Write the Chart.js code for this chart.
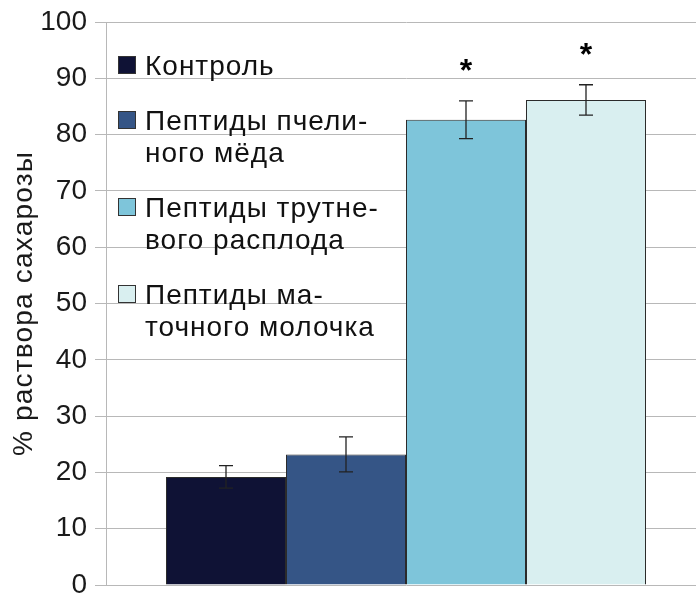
<!DOCTYPE html>
<html>
<head>
<meta charset="utf-8">
<script src="https://cdn.jsdelivr.net/npm/chart.js@4/dist/chart.umd.min.js"></script>
<style>
  html, body { margin: 0; padding: 0; background: #fff; overflow: hidden; }
  #wrap { width: 696px; height: 594px; overflow: hidden; position: relative; }
  canvas { display: block; }
</style>
</head>
<body>
<div id="wrap"><canvas id="c" width="720" height="620"></canvas></div>
<script>
// Groups (legend lines, hyphenated as printed)
const groupLabels = [
  ['Контроль'],
  ['Пептиды пчели-', 'ного мёда'],
  ['Пептиды трутне-', 'вого расплода'],
  ['Пептиды ма-', 'точного молочка']
];
// Mean response, % of sucrose solution
const means = [19.2, 23.2, 82.65, 86.15];
// Error (±)
const errors = [2.0, 3.1, 3.35, 2.7];
// Significance marks
const significant = [false, false, true, true];
const barColors = ['#0f1235', '#355586', '#7ec5da', '#d9eff0'];
const yTicks = [0, 10, 20, 30, 40, 50, 60, 70, 80, 90, 100];
const yTitle = '% раствора сахарозы';

const FONT = "'Liberation Sans', Arial, sans-serif";

const datasets = groupLabels.map((lab, i) => ({
  label: lab.join(' '),
  lines: lab,
  data: [means[i]],
  err: errors[i],
  star: significant[i],
  backgroundColor: barColors[i],
  borderColor: '#2b2b2b',
  borderWidth: 1,
  barPercentage: 1,
  categoryPercentage: 0.8
}));

// Error bars, significance stars, axis title and the in-plot legend
const overlay = {
  id: 'overlay',
  afterDatasetsDraw(chart) {
    const ctx = chart.ctx;
    const y = chart.scales.y;
    const area = chart.chartArea;
    ctx.save();
    chart.data.datasets.forEach((ds, i) => {
      const bar = chart.getDatasetMeta(i).data[0];
      const v = ds.data[0];
      const yTop = y.getPixelForValue(v + ds.err);
      const yBot = y.getPixelForValue(v - ds.err);
      const x = bar.x;
      ctx.strokeStyle = '#222';
      ctx.lineWidth = 1.3;
      ctx.beginPath();
      ctx.moveTo(x, yTop); ctx.lineTo(x, yBot);
      ctx.moveTo(x - 7, yTop); ctx.lineTo(x + 7, yTop);
      ctx.moveTo(x - 7, yBot); ctx.lineTo(x + 7, yBot);
      ctx.stroke();
      if (ds.star) {
        ctx.fillStyle = '#000';
        ctx.font = 'bold 32px ' + FONT;
        ctx.textAlign = 'center';
        ctx.textBaseline = 'middle';
        ctx.fillText('*', x, yTop - 29);
      }
    });

    // y-axis title
    ctx.save();
    ctx.translate(32, (y.top + y.bottom) / 2);
    ctx.rotate(-Math.PI / 2);
    ctx.font = '28px ' + FONT;
    ctx.letterSpacing = '1.2px';
    ctx.fillStyle = '#1a1a1a';
    ctx.textAlign = 'center';
    ctx.textBaseline = 'alphabetic';
    ctx.fillText(yTitle, 0, 0);
    ctx.restore();

    // legend
    const boxX = area.left + 12;
    const textX = area.left + 39;
    const lineH = 32;
    let cy = 65;
    ctx.font = '28px ' + FONT;
    ctx.letterSpacing = '1px';
    ctx.textAlign = 'left';
    ctx.textBaseline = 'alphabetic';
    chart.data.datasets.forEach((ds) => {
      ctx.fillStyle = ds.backgroundColor;
      ctx.fillRect(boxX, cy - 9, 18, 18);
      ctx.strokeStyle = '#333';
      ctx.lineWidth = 1;
      ctx.strokeRect(boxX + 0.5, cy - 8.5, 17, 17);
      ctx.fillStyle = '#111';
      ds.lines.forEach((t, k) => ctx.fillText(t, textX, cy + k * lineH + 10));
      cy += ds.lines.length * lineH + 23;
    });
    ctx.restore();
  }
};

new Chart(document.getElementById('c'), {
  type: 'bar',
  data: { labels: [''], datasets },
  options: {
    responsive: false,
    animation: false,
    devicePixelRatio: 1,
    layout: { padding: { top: 22, right: 14, bottom: 35, left: 0 } },
    plugins: { legend: { display: false }, tooltip: { enabled: false } },
    scales: {
      x: { display: false },
      y: {
        min: 0, max: 100,
        afterBuildTicks(s) { s.ticks = yTicks.map(v => ({ value: v })); },
        afterFit(s) { s.width = 106; },
        ticks: { color: '#1a1a1a', padding: 8, font: { family: FONT, size: 28, lineHeight: 1 } },
        grid: { color: '#b8b8b8', lineWidth: 1, tickLength: 11 },
        border: { color: '#b8b8b8', width: 1 }
      }
    }
  },
  plugins: [overlay]
});
</script>
</body>
</html>
